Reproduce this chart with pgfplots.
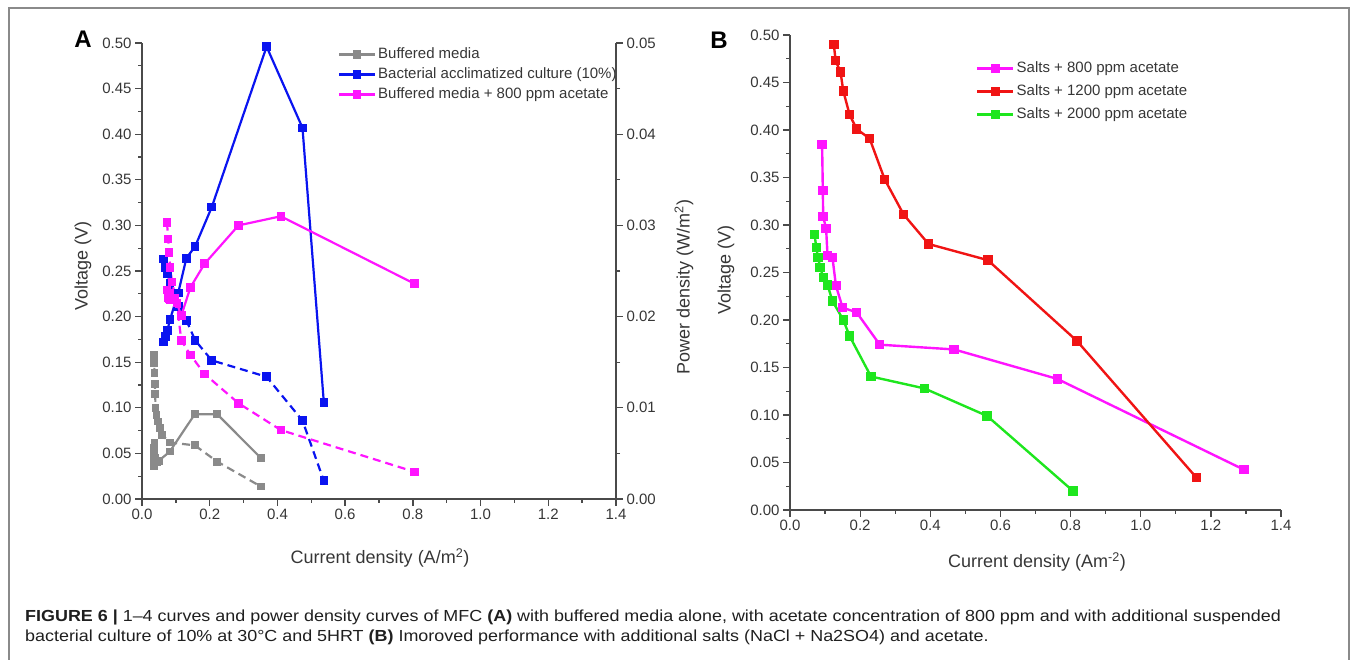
\documentclass[border=0pt]{standalone}
\usepackage{fontspec}
\setmainfont{Liberation Sans}
\usepackage{pgfplots}
\pgfplotsset{compat=1.18}
\definecolor{axgray}{HTML}{4A4A4A}
\definecolor{txtgray}{HTML}{363636}
\definecolor{cgray}{HTML}{8A8A8A}
\definecolor{cblue}{HTML}{0A14F0}
\definecolor{cmag}{HTML}{FF14FF}
\definecolor{cred}{HTML}{F01414}
\definecolor{cgreen}{HTML}{1EE61E}
\definecolor{framegray}{HTML}{8A8A8A}
\pgfplotsset{
  mystyle/.style={
    scale only axis,
    axis line style={-, axgray, line width=1.6pt},
    tick style={axgray, line width=1.3pt},
    major tick length=7pt, minor tick length=4pt,
    tick align=outside,
    xmin=0, xmax=1.4, ymin=0, ymax=0.5,
    xtick={0,0.2,0.4,0.6,0.8,1.0,1.2,1.4},
    ytick={0,0.05,0.1,0.15,0.2,0.25,0.3,0.35,0.4,0.45,0.5},
    minor x tick num=1, minor y tick num=1,
    axis x line*=bottom, axis y line*=left,
    scaled ticks=false,
    /pgf/number format/assume math mode=true,
    ticklabel style={font=\fontsize{15}{15}\selectfont, text=txtgray},
    xticklabel style={/pgf/number format/fixed, /pgf/number format/fixed zerofill, /pgf/number format/precision=1},
    yticklabel style={/pgf/number format/fixed, /pgf/number format/fixed zerofill, /pgf/number format/precision=2},
    clip=false,
    legend image code/.code={\draw[mark repeat=2, mark phase=2, #1] plot coordinates {(0pt,0pt) (18pt,0pt) (36pt,0pt)};},
    legend cell align=left,
  },
  vline/.style={line width=2.2pt, dash pattern=on 8pt off 5pt, mark=square*, mark size=3.2pt, mark options={solid}},
  pline/.style={line width=2.2pt, solid, mark=square*, mark size=3.2pt},
  bline/.style={line width=2.4pt, solid, mark=square*, mark size=3.5pt},
}
\begin{document}
\begin{tikzpicture}[x=1pt,y=1pt]
\useasboundingbox (0,0) rectangle (1355,660);
\draw[framegray, line width=1.3pt] (9,-10) -- (9,652) -- (1349,652) -- (1349,-10);

% ---------------- Panel A: voltage ----------------
\begin{axis}[mystyle, at={(142pt,161pt)}, anchor=south west, width=474pt, height=456pt,
  legend style={draw=none, fill=none, at={(0.413,0.995)}, anchor=north west, inner sep=0pt,
    font=\fontsize{15}{15}\selectfont, text=txtgray, row sep=2pt,
    nodes={inner sep=2pt, text height=11pt, text depth=3pt}}]
\addlegendimage{cgray, line width=2.2pt, mark=square*, mark size=3pt}
\addlegendentry{Buffered media}
\addlegendimage{cblue, line width=2.2pt, mark=square*, mark size=3pt}
\addlegendentry{Bacterial acclimatized culture (10\%)}
\addlegendimage{cmag, line width=2.2pt, mark=square*, mark size=3pt}
\addlegendentry{Buffered media + 800 ppm acetate}
\addplot[vline, cgray, mark size=2.8pt, forget plot] coordinates {
(0.035,0.158)(0.036,0.149)(0.037,0.138)(0.038,0.126)(0.039,0.115)(0.040,0.100)(0.043,0.092)(0.047,0.085)(0.052,0.078)(0.060,0.070)(0.082,0.062)(0.156,0.0588)(0.222,0.041)(0.351,0.0137)};
\addplot[vline, cblue, forget plot] coordinates {
(0.0635,0.263)(0.070,0.254)(0.075,0.247)(0.083,0.237)(0.107,0.211)(0.131,0.196)(0.157,0.174)(0.206,0.152)(0.368,0.134)(0.474,0.086)(0.537,0.020)};
\addplot[vline, cmag, forget plot] coordinates {
(0.074,0.303)(0.077,0.285)(0.080,0.270)(0.083,0.254)(0.089,0.238)(0.096,0.226)(0.103,0.214)(0.116,0.174)(0.143,0.158)(0.185,0.137)(0.285,0.105)(0.410,0.0756)(0.805,0.0298)};
\end{axis}

% ---------------- Panel A: power density ----------------
\begin{axis}[scale only axis, at={(142pt,161pt)}, anchor=south west, width=474pt, height=456pt,
  xmin=0, xmax=1.4, ymin=0, ymax=0.05, clip=false,
  axis x line=none, axis y line*=right,
  axis line style={-, axgray, line width=1.6pt},
  tick style={axgray, line width=1.3pt},
  major tick length=7pt, minor tick length=4pt, tick align=outside,
  ytick={0,0.01,0.02,0.03,0.04,0.05}, minor y tick num=1,
  scaled y ticks=false,
  /pgf/number format/assume math mode=true,
  ticklabel style={font=\fontsize{15}{15}\selectfont, text=txtgray},
  yticklabel style={/pgf/number format/fixed, /pgf/number format/fixed zerofill, /pgf/number format/precision=2}]
\addplot[pline, cgray, mark size=2.8pt] coordinates {
(0.035,0.0036)(0.035,0.0042)(0.036,0.0049)(0.036,0.0056)(0.037,0.0062)(0.040,0.0045)(0.045,0.0040)(0.050,0.0042)(0.082,0.0052)(0.156,0.0093)(0.222,0.0093)(0.351,0.0045)};
\addplot[pline, cblue] coordinates {
(0.0635,0.0172)(0.070,0.0178)(0.075,0.0185)(0.083,0.0197)(0.107,0.0226)(0.131,0.0264)(0.157,0.0277)(0.206,0.0320)(0.368,0.0496)(0.474,0.0407)(0.537,0.0106)};
\addplot[pline, cmag] coordinates {
(0.074,0.0229)(0.077,0.0221)(0.080,0.0220)(0.083,0.0218)(0.089,0.0220)(0.096,0.0220)(0.103,0.0215)(0.116,0.0201)(0.143,0.0232)(0.185,0.0258)(0.285,0.0300)(0.410,0.0310)(0.805,0.0236)};
\end{axis}

% ---------------- Panel B ----------------
\begin{axis}[mystyle, at={(790pt,150pt)}, anchor=south west, width=491pt, height=475pt,
  legend style={draw=none, fill=none, at={(0.379,0.949)}, anchor=north west, inner sep=0pt,
    font=\fontsize{15}{15}\selectfont, text=txtgray, row sep=5pt,
    nodes={inner sep=2pt, text height=11pt, text depth=3pt}}]
\addplot[bline, cmag] coordinates {
(0.0915,0.385)(0.0936,0.336)(0.0946,0.309)(0.103,0.296)(0.107,0.268)(0.121,0.266)(0.131,0.236)(0.150,0.213)(0.190,0.208)(0.256,0.174)(0.468,0.169)(0.762,0.138)(1.294,0.0425)};
\addlegendentry{Salts + 800 ppm acetate}
\addplot[bline, cred] coordinates {
(0.125,0.490)(0.130,0.473)(0.144,0.461)(0.152,0.441)(0.170,0.416)(0.190,0.401)(0.227,0.391)(0.270,0.348)(0.324,0.311)(0.395,0.280)(0.564,0.263)(0.818,0.178)(1.159,0.034)};
\addlegendentry{Salts + 1200 ppm acetate}
\addplot[bline, cgreen] coordinates {
(0.070,0.290)(0.075,0.276)(0.080,0.266)(0.086,0.255)(0.095,0.245)(0.107,0.237)(0.121,0.220)(0.152,0.200)(0.170,0.183)(0.231,0.1405)(0.383,0.128)(0.562,0.099)(0.807,0.020)};
\addlegendentry{Salts + 2000 ppm acetate}
\end{axis}

% ---------------- Labels ----------------
\begin{scope}[every node/.style={text=txtgray, font=\fontsize{18}{18}\selectfont}]
\node[rotate=90] at (83,394) {Voltage (V)};
\node[rotate=90] at (684,373) {Power density (W/m\textsuperscript{2})};
\node at (380,102) {Current density (A/m\textsuperscript{2})};
\node[rotate=90] at (726,390) {Voltage (V)};
\node at (1037,98) {Current density (Am\textsuperscript{-2})};
\end{scope}
\node[font=\bfseries\fontsize{24}{24}\selectfont, text=black] at (83,621) {A};
\node[font=\bfseries\fontsize{24}{24}\selectfont, text=black] at (719,620) {B};

% ---------------- Caption ----------------
\begin{scope}[every node/.style={anchor=base west, inner sep=0pt, text=black!88, font=\fontsize{16}{16}\selectfont}]
\node at (25,38) {\scalebox{1.12}[1]{\textbf{FIGURE 6 |} 1–4 curves and power density curves of MFC \textbf{(A)} with buffered media alone, with acetate concentration of 800 ppm and with additional suspended}};
\node at (25,18) {\scalebox{1.12}[1]{bacterial culture of 10\% at 30°C and 5HRT \textbf{(B)} Imoroved performance with additional salts (NaCl + Na2SO4) and acetate.}};
\end{scope}
\end{tikzpicture}
\end{document}
